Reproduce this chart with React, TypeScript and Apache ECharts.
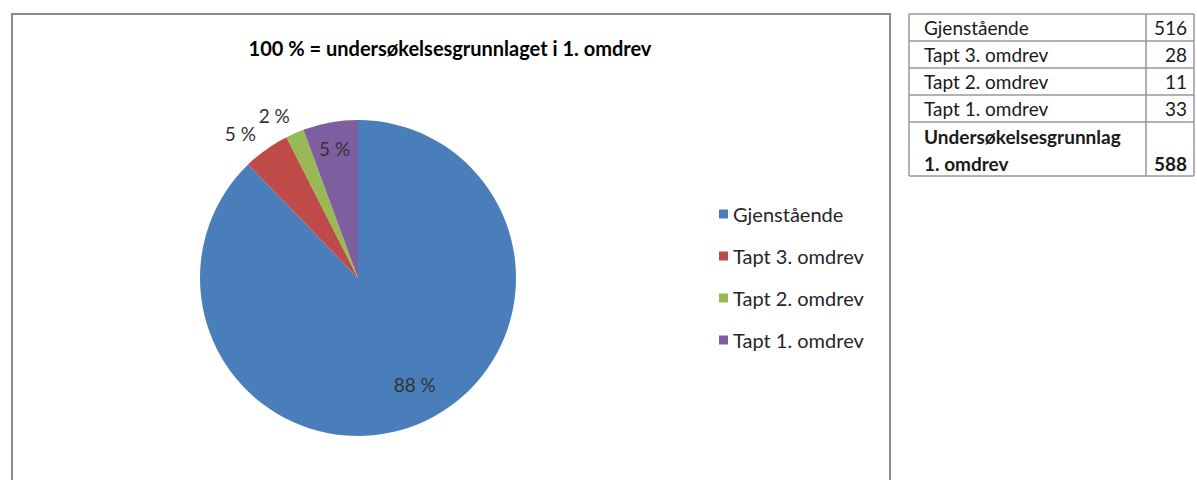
import React, { useEffect, useRef } from "react";
import * as echarts from "echarts";

const categories = ["Gjenstående", "Tapt 3. omdrev", "Tapt 2. omdrev", "Tapt 1. omdrev"];
const values = [516, 28, 11, 33];
const pctLabels = ["88 %", "5 %", "2 %", "5 %"];
const colors = ["#4A7EBB", "#BE4B48", "#98B954", "#7D5FA0"];
const labelOffsets: [number, number][] = [
  [26, 30],
  [-70, -78],
  [-51, -87],
  [-9, -49],
];
const tableRows = ["Gjenstående", "Tapt 3. omdrev", "Tapt 2. omdrev", "Tapt 1. omdrev"];
const tableValues = ["516", "28", "11", "33"];
const totalLabel = ["Undersøkelsesgrunnlag", "1. omdrev"];
const totalValue = "588";
const title = "100 % = undersøkelsesgrunnlaget i 1. omdrev";

const FONT = "Lato, 'Open Sans', sans-serif";

export default function App() {
  const ref = useRef<HTMLDivElement>(null);
  useEffect(() => {
    if (!ref.current) return;
    const chart = echarts.init(ref.current, null, { renderer: "svg" });

    const border = "#999999";
    const tX0 = 909, tX1 = 1146, tX2 = 1194;
    const rowLines = [14, 41, 68, 95, 122, 176];
    const tFont = 19;
    const tColor = "#1a1a1a";
    const graphics: any[] = [];
    graphics.push({
      type: "rect",
      shape: { x: 12, y: 14, width: 878, height: 500 },
      style: { fill: "none", stroke: "#8C8C8C", lineWidth: 2 },
      silent: true,
    });
    rowLines.forEach((y) => {
      graphics.push({ type: "line", shape: { x1: tX0, y1: y, x2: tX2, y2: y }, style: { stroke: border, lineWidth: 1.5 } });
    });
    [tX0, tX1, tX2].forEach((x) => {
      graphics.push({ type: "line", shape: { x1: x, y1: rowLines[0], x2: x, y2: rowLines[rowLines.length - 1] }, style: { stroke: border, lineWidth: 1.5 } });
    });
    tableRows.forEach((r, i) => {
      const cy = (rowLines[i] + rowLines[i + 1]) / 2;
      graphics.push({ type: "text", x: tX0 + 15, y: cy, style: { text: r, fontFamily: FONT, fontSize: tFont, fill: tColor, verticalAlign: "middle", align: "left" } });
      graphics.push({ type: "text", x: tX2 - 7, y: cy, style: { text: tableValues[i], fontFamily: FONT, fontSize: tFont, fill: tColor, verticalAlign: "middle", align: "right" } });
    });
    graphics.push({ type: "text", x: tX0 + 15, y: 136, style: { text: totalLabel[0], fontFamily: FONT, fontSize: tFont, fontWeight: "bold", fill: tColor, verticalAlign: "middle", align: "left" } });
    graphics.push({ type: "text", x: tX0 + 15, y: 163, style: { text: totalLabel[1], fontFamily: FONT, fontSize: tFont, fontWeight: "bold", fill: tColor, verticalAlign: "middle", align: "left" } });
    graphics.push({ type: "text", x: tX2 - 7, y: 163, style: { text: totalValue, fontFamily: FONT, fontSize: tFont, fontWeight: "bold", fill: tColor, verticalAlign: "middle", align: "right" } });

    chart.setOption({
      animation: false,
      backgroundColor: "#ffffff",
      color: colors,
      title: {
        text: title,
        left: 445,
        top: 33,
        textAlign: "center",
        textStyle: { fontFamily: FONT, fontSize: 20, fontWeight: "bold", color: "#000000" },
      },
      legend: {
        orient: "vertical",
        left: 719,
        top: 204,
        padding: 0,
        itemWidth: 9,
        itemHeight: 9,
        itemGap: 22,
        icon: "rect",
        data: categories,
        textStyle: { fontFamily: FONT, fontSize: 20, color: "#262626" },
      },
      graphic: graphics,
      series: [
        {
          type: "pie",
          center: [358, 278],
          radius: 158,
          startAngle: 90,
          clockwise: true,
          avoidLabelOverlap: false,
          labelLine: { show: false },
          data: categories.map((c, i) => ({
            name: c,
            value: values[i],
            label: {
              show: true,
              position: "inside",
              formatter: pctLabels[i],
              offset: labelOffsets[i],
              fontFamily: FONT,
              fontSize: 19,
              color: "#333333",
            },
          })),
          itemStyle: { borderWidth: 0 },
          emphasis: { disabled: true },
        },
      ],
    });
    return () => chart.dispose();
  }, []);
  return <div ref={ref} style={{ position: "absolute", left: 0, top: 0, width: 1197, height: 480 }} />;
}
